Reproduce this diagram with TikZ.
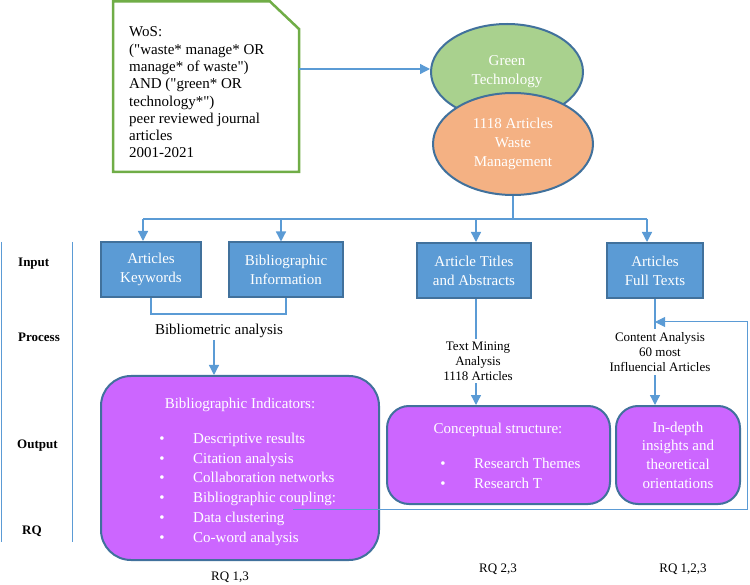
\documentclass[tikz,border=0pt]{standalone}
\usepackage{fontspec}
\setmainfont{Liberation Serif}[Ligatures=TeXOff]
\usetikzlibrary{arrows.meta,shapes.geometric,calc}
\definecolor{lineblue}{HTML}{5B9BD5}
\definecolor{boxfill}{HTML}{5B9BD5}
\definecolor{boxedge}{HTML}{41719C}
\definecolor{gfill}{HTML}{A9D18E}
\definecolor{ofill}{HTML}{F4B183}
\definecolor{pfill}{HTML}{CC66FF}
\definecolor{noteedge}{HTML}{70AD47}
\begin{document}
\begin{tikzpicture}[x=1pt,y=-1pt,
 conn/.style={draw=lineblue,line width=1.3pt},
 arr/.style={conn,-{Triangle[length=10pt,width=10pt]}},
 inbox/.style={rectangle,draw=boxedge,fill=boxfill,line width=2pt,text=white,align=center,font=\fontsize{15}{19}\selectfont,inner sep=0pt,minimum height=55pt},
 oval/.style={ellipse,draw=boxedge,line width=2pt,text=white,align=center,font=\fontsize{15}{19}\selectfont,inner sep=0pt},
 outbox/.style={rectangle,rounded corners=22pt,draw=boxedge,fill=pfill,line width=2pt,inner sep=0pt},
 wtxt/.style={text=white,font=\fontsize{15}{20}\selectfont,inner sep=0pt,text height=10pt,text depth=0pt},
 lab/.style={font=\bfseries\fontsize{13}{15}\selectfont,anchor=west,inner sep=0pt},
 rq/.style={font=\fontsize{13}{15}\selectfont,inner sep=0pt},
 proc/.style={font=\fontsize{13}{15}\selectfont,align=center,fill=white,inner sep=3pt},
]
\useasboundingbox (0,0) rectangle (750,585);

% search note
\draw[draw=noteedge,line width=2.5pt,fill=white] (113,1.5) -- (270,1.5) -- (299,29) -- (299,172) -- (113,172) -- cycle;
\node[anchor=west,align=left,font=\fontsize{15}{17.3}\selectfont,inner sep=0pt] (note) at (129,92.5)
 {WoS:\\("waste* manage* OR\\manage* of waste")\\AND ("green* OR\\technology*")\\peer reviewed journal\\articles\\2001-2021};
\coordinate (noteR) at (299,69);

% ellipses
\node[oval,fill=gfill,minimum width=152pt,minimum height=96pt] (green) at (507,72) {Green\\Technology};
\node[oval,fill=ofill,minimum width=160pt,minimum height=102pt] (orange) at (513,144) {1118 Articles\\Waste\\Management};
\draw[arr] (noteR) -- (noteR -| green.west);

% input boxes
\node[inbox,minimum width=100pt] (kw) at (151,269.5) {Articles\\Keywords};
\node[inbox,minimum width=114pt] (bib) at (286,270) {Bibliographic\\Information};
\node[inbox,minimum width=114pt] (titles) at (474,270.5) {Article Titles\\and Abstracts};
\node[inbox,minimum width=96pt] (full) at (655,270.5) {Articles\\Full Texts};

% distribution
\coordinate (hub) at (orange.south |- 0,219);
\coordinate (bL) at ([xshift=-8pt]kw.north |- hub);
\coordinate (bR) at ([xshift=-8pt]full.north |- hub);
\draw[conn] (orange.south) -- (hub);
\draw[conn] (bL) -- (bR);
\draw[arr] (bL) -- ([xshift=-8pt]kw.north);
\draw[arr] ([xshift=-5pt]bib.north |- hub) -- ([xshift=-5pt]bib.north);
\draw[arr] ([xshift=2pt]titles.north |- hub) -- ([xshift=2pt]titles.north);
\draw[arr] (bR) -- ([xshift=-8pt]full.north);

% output boxes
\node[outbox,rounded corners=30pt,minimum width=278pt,minimum height=184pt] (big) at (240,468) {};
\node[wtxt] (bigtitle) at (240,403) {Bibliographic Indicators:};
\foreach \t [count=\i] in {Descriptive results,Citation analysis,Collaboration networks,Bibliographic coupling:,Data clustering,Co-word analysis}{
  \node[wtxt,anchor=west] (bi\i) at (193,418.5+19.8*\i) {\t};
  \node[wtxt] (bb\i) at (162,418.5+19.8*\i) {\textbullet};
}
\node[outbox,minimum width=223pt,minimum height=98pt] (concept) at (498.5,455) {};
\node[wtxt] (ctitle) at (498,428) {Conceptual structure:};
\node[wtxt,anchor=west] (ci1) at (474,463) {Research Themes};
\node[wtxt] (cb1) at (443,463) {\textbullet};
\node[wtxt,anchor=west] (ci2) at (474,483) {Research T};
\node[wtxt] (cb2) at (443,483) {\textbullet};
\node[outbox,minimum width=124pt,minimum height=98pt,align=center,text=white,font=\fontsize{15}{18.7}\selectfont] (deep) at (678,455) {In-depth\\insights and\\theoretical\\orientations};

% processes
\draw[conn] (kw.south) -- (kw.south |- 0,314) -| (bib.south);
\node[font=\fontsize{15}{18}\selectfont,inner sep=0pt] (bm) at (219,331) {Bibliometric analysis};
\draw[arr] ([xshift=-5pt]bm.south) ++(0,2) -- ([xshift=-5pt]bm.south |- big.north);
\draw[arr] ([xshift=2pt]titles.south) -- ([xshift=2pt]titles.south |- concept.north);
\node[proc] (tm) at (478,361) {Text Mining\\Analysis\\1118 Articles};
\draw[arr] (full.south) -- (full.south |- deep.north);

% feedback
\coordinate (fbS) at (293,509);
\coordinate (fbC) at (747,509);
\draw[conn,line width=1pt,-{Triangle[length=10pt,width=10pt]}] (fbS) -- (fbC) -- (fbC |- 0,322) -- (full.south |- 0,322);
\node[proc] (ca) at (660,352) {Content Analysis\\60 most\\Influencial Articles};

% stage labels
\draw[conn,line width=1pt] (1,242) -- (1,542);
\draw[conn,line width=1pt] (72,242) -- (72,542);
\node[lab] (lin) at (18,264) {Input};
\node[lab] (lpr) at (18,337) {Process};
\node[lab] (lout) at (17,446) {Output};
\node[lab] (lrq) at (22,531) {RQ};

% research questions
\node[rq] (rq1) at (230,577) {RQ 1,3};
\node[rq] (rq2) at (498,569) {RQ 2,3};
\node[rq] (rq3) at (683,569) {RQ 1,2,3};
\end{tikzpicture}
\end{document}
